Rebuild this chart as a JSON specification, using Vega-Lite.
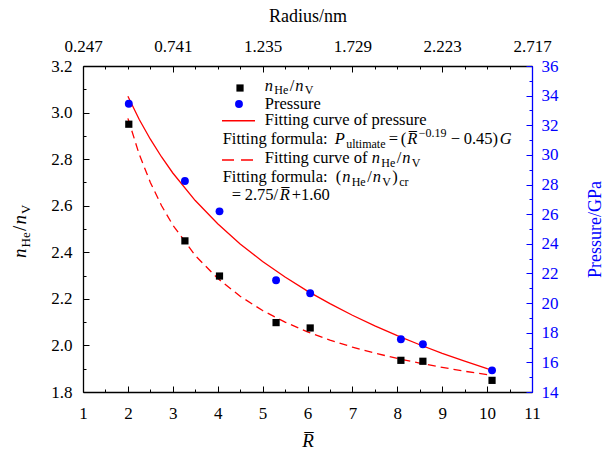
{
  "$schema": "https://vega.github.io/schema/vega-lite/v6.json",
  "width": 449,
  "height": 326,
  "autosize": {"type": "none"},
  "padding": {"left": 83, "top": 66, "right": 72, "bottom": 58},
  "background": "white",
  "config": {
    "font": "Liberation Serif",
    "view": {"stroke": null},
    "axis": {"grid": false, "labelFont": "Liberation Serif", "titleFont": "Liberation Serif", "labelFontSize": 17, "titleFontSize": 18, "titleFontWeight": "normal", "labelColor": "black", "titleColor": "black", "tickColor": "black", "domainColor": "black", "domainWidth": 1.3, "tickWidth": 1, "labelFlush": false, "labelOverlap": false},
    "text": {"font": "Liberation Serif", "fontSize": 16.5, "align": "left", "baseline": "alphabetic", "color": "black"}
  },
  "datasets": {
    "points": [
      {"R": 2.02, "n": 2.95, "P": 33.45},
      {"R": 3.27, "n": 2.449, "P": 28.24},
      {"R": 4.04, "n": 2.298, "P": 26.19},
      {"R": 5.30, "n": 2.098, "P": 21.54},
      {"R": 6.06, "n": 2.075, "P": 20.66},
      {"R": 8.08, "n": 1.936, "P": 17.56},
      {"R": 8.57, "n": 1.932, "P": 17.22},
      {"R": 10.11, "n": 1.85, "P": 15.46}
    ],
    "fitP": [
      {"R": 2, "P": 33.96}, {"R": 2.25, "P": 32.41}, {"R": 2.5, "P": 31.06}, {"R": 2.75, "P": 29.86},
      {"R": 3, "P": 28.78}, {"R": 3.5, "P": 26.92}, {"R": 4, "P": 25.35}, {"R": 4.5, "P": 23.99},
      {"R": 5, "P": 22.81}, {"R": 5.5, "P": 21.76}, {"R": 6, "P": 20.81}, {"R": 6.5, "P": 19.96},
      {"R": 7, "P": 19.18}, {"R": 7.5, "P": 18.46}, {"R": 8, "P": 17.80}, {"R": 8.5, "P": 17.19},
      {"R": 9, "P": 16.61}, {"R": 9.5, "P": 16.08}, {"R": 10, "P": 15.57}, {"R": 10.1, "P": 15.48}
    ],
    "fitN": [
      {"R": 2, "n": 2.975}, {"R": 2.25, "n": 2.822}, {"R": 2.5, "n": 2.700}, {"R": 2.75, "n": 2.600},
      {"R": 3, "n": 2.517}, {"R": 3.5, "n": 2.386}, {"R": 4, "n": 2.288}, {"R": 4.5, "n": 2.211},
      {"R": 5, "n": 2.150}, {"R": 5.5, "n": 2.100}, {"R": 6, "n": 2.058}, {"R": 6.5, "n": 2.023},
      {"R": 7, "n": 1.993}, {"R": 7.5, "n": 1.967}, {"R": 8, "n": 1.944}, {"R": 8.5, "n": 1.924},
      {"R": 9, "n": 1.906}, {"R": 9.5, "n": 1.889}, {"R": 10, "n": 1.875}, {"R": 10.1, "n": 1.872}
    ],
    "one": [{}]
  },
  "layer": [
    {
      "data": {"name": "fitN"},
      "mark": {"type": "line", "color": "#ff0000", "strokeWidth": 1.3, "strokeDash": [8, 5]},
      "encoding": {
        "x": {"field": "R", "type": "quantitative", "scale": {"domain": [1, 11], "nice": false, "zero": false}, "axis": null},
        "y": {"field": "n", "type": "quantitative", "scale": {"domain": [1.8, 3.2], "nice": false, "zero": false}, "axis": null}
      }
    },
    {
      "data": {"name": "points"},
      "mark": {"type": "square", "size": 52, "color": "black", "opacity": 1},
      "encoding": {
        "x": {"field": "R", "type": "quantitative", "scale": {"domain": [1, 11], "nice": false, "zero": false},
          "axis": {"orient": "bottom", "values": [1, 2, 3, 4, 5, 6, 7, 8, 9, 10, 11], "tickSize": -6, "labelPadding": 19, "labelFont": "Liberation Serif", "titleFont": "Liberation Serif", "title": "R\u0305", "titleFontStyle": "italic", "titleFontSize": 19, "titlePadding": 10}},
        "y": {"field": "n", "type": "quantitative", "scale": {"domain": [1.8, 3.2], "nice": false, "zero": false},
          "axis": {"orient": "left", "values": [1.8, 2.0, 2.2, 2.4, 2.6, 2.8, 3.0, 3.2], "format": ".1f", "tickSize": -6, "labelPadding": 17, "labelFont": "Liberation Serif", "title": null}}
      }
    },
    {
      "data": {"name": "fitP"},
      "mark": {"type": "line", "color": "#ff0000", "strokeWidth": 1.3},
      "encoding": {
        "x": {"field": "R", "type": "quantitative", "scale": {"domain": [1, 11], "nice": false, "zero": false}, "axis": null},
        "y": {"field": "P", "type": "quantitative", "scale": {"domain": [14, 36], "nice": false, "zero": false}, "axis": null}
      }
    },
    {
      "data": {"name": "points"},
      "mark": {"type": "circle", "size": 62, "color": "#0000ff", "opacity": 1},
      "encoding": {
        "x": {"field": "R", "type": "quantitative", "scale": {"domain": [1, 11], "nice": false, "zero": false},
          "axis": {"orient": "top", "values": [1, 3, 5, 7, 9, 11], "labelExpr": "format(datum.value*0.247, '.3f')", "tickSize": -6, "labelPadding": 17, "labelFont": "Liberation Serif", "titleFont": "Liberation Serif", "title": "Radius/nm", "titleFontSize": 18, "titlePadding": 12}},
        "y": {"field": "P", "type": "quantitative", "scale": {"domain": [14, 36], "nice": false, "zero": false},
          "axis": {"orient": "right", "values": [14, 16, 18, 20, 22, 24, 26, 28, 30, 32, 34, 36], "tickSize": -6, "labelPadding": 15, "labelFont": "Liberation Serif", "titleFont": "Liberation Serif", "title": "Pressure/GPa", "titleFontSize": 18, "titleAngle": 270, "titleBaseline": "top", "titlePadding": 28, "labelColor": "#0000ff", "titleColor": "#0000ff", "tickColor": "#0000ff", "domainColor": "#0000ff"}}
      }
    },
    {
      "data": {"name": "points"},
      "mark": {"type": "point", "opacity": 0},
      "encoding": {
        "x": {"field": "R", "type": "quantitative", "scale": {"domain": [1, 11], "nice": false, "zero": false},
          "axis": {"orient": "bottom", "values": [1.5, 2.5, 3.5, 4.5, 5.5, 6.5, 7.5, 8.5, 9.5, 10.5], "tickSize": -3, "labels": false, "domain": false, "title": null}},
        "y": {"field": "n", "type": "quantitative", "scale": {"domain": [1.8, 3.2], "nice": false, "zero": false},
          "axis": {"orient": "left", "values": [1.9, 2.1, 2.3, 2.5, 2.7, 2.9, 3.1], "tickSize": -3, "labels": false, "domain": false, "title": null}}
      }
    },
    {
      "data": {"name": "points"},
      "mark": {"type": "point", "opacity": 0},
      "encoding": {
        "x": {"field": "R", "type": "quantitative", "scale": {"domain": [1, 11], "nice": false, "zero": false},
          "axis": {"orient": "top", "values": [1.5, 2, 2.5, 3.5, 4, 4.5, 5.5, 6, 6.5, 7.5, 8, 8.5, 9.5, 10, 10.5], "tickSize": -3, "labels": false, "domain": false, "title": null}},
        "y": {"field": "P", "type": "quantitative", "scale": {"domain": [14, 36], "nice": false, "zero": false},
          "axis": {"orient": "right", "values": [15, 17, 19, 21, 23, 25, 27, 29, 31, 33, 35], "tickSize": -3, "labels": false, "domain": false, "title": null, "tickColor": "#0000ff"}}
      }
    },
    {
      "data": {"name": "one"},
      "encoding": {
        "x": {"datum": 4.497, "type": "quantitative", "scale": {"domain": [1, 11], "nice": false, "zero": false}, "axis": null},
        "y": {"datum": 3.1055, "type": "quantitative", "scale": {"domain": [1.8, 3.2], "nice": false, "zero": false}, "axis": null}
      },
      "mark": {"type": "square", "size": 52, "color": "black", "opacity": 1}
    },
    {
      "data": {"name": "one"},
      "encoding": {
        "x": {"datum": 4.474, "type": "quantitative", "scale": {"domain": [1, 11], "nice": false, "zero": false}, "axis": null},
        "y": {"datum": 3.0368, "type": "quantitative", "scale": {"domain": [1.8, 3.2], "nice": false, "zero": false}, "axis": null}
      },
      "mark": {"type": "circle", "size": 62, "color": "#0000ff", "opacity": 1}
    },
    {
      "data": {"name": "one"},
      "encoding": {
        "x": {"datum": 4.096, "type": "quantitative", "scale": {"domain": [1, 11], "nice": false, "zero": false}, "axis": null},
        "x2": {"datum": 4.831},
        "y": {"datum": 2.9651, "type": "quantitative", "scale": {"domain": [1.8, 3.2], "nice": false, "zero": false}, "axis": null}
      },
      "mark": {"type": "rule", "color": "#ff0000", "strokeWidth": 1.5}
    },
    {
      "data": {"name": "one"},
      "encoding": {
        "x": {"datum": 4.096, "type": "quantitative", "scale": {"domain": [1, 11], "nice": false, "zero": false}, "axis": null},
        "x2": {"datum": 4.831},
        "y": {"datum": 2.7964, "type": "quantitative", "scale": {"domain": [1.8, 3.2], "nice": false, "zero": false}, "axis": null}
      },
      "mark": {"type": "rule", "color": "#ff0000", "strokeWidth": 1.5, "strokeDash": [12, 7]}
    },
    {
      "data": {"name": "one"},
      "encoding": {
        "x": {"datum": 5.05, "type": "quantitative", "scale": {"domain": [1, 11], "nice": false, "zero": false}, "axis": null},
        "y": {"datum": 3.0927, "type": "quantitative", "scale": {"domain": [1.8, 3.2], "nice": false, "zero": false}, "axis": null}
      },
      "layer": [
        {"mark": {"type": "text", "text": "n", "fontStyle": "italic", "dx": 0}},
        {"mark": {"type": "text", "text": "He", "fontSize": 12, "dx": 9.5, "dy": 3.5}},
        {"mark": {"type": "text", "text": "/", "dx": 25}},
        {"mark": {"type": "text", "text": "n", "fontStyle": "italic", "dx": 30.5}},
        {"mark": {"type": "text", "text": "V", "fontSize": 12, "dx": 40, "dy": 3.5}},
        {"mark": {"type": "text", "text": "Pressure", "dy": 17.7}},
        {"mark": {"type": "text", "text": "Fitting curve of pressure", "dy": 34}},
        {"mark": {"type": "text", "text": "Fitting curve of", "dy": 72.3}},
        {"mark": {"type": "text", "text": "n", "fontStyle": "italic", "dx": 107, "dy": 72.3}},
        {"mark": {"type": "text", "text": "He", "fontSize": 12, "dx": 116.5, "dy": 75.8}},
        {"mark": {"type": "text", "text": "/", "dx": 132, "dy": 72.3}},
        {"mark": {"type": "text", "text": "n", "fontStyle": "italic", "dx": 137.5, "dy": 72.3}},
        {"mark": {"type": "text", "text": "V", "fontSize": 12, "dx": 147, "dy": 75.8}}
      ]
    },
    {
      "data": {"name": "one"},
      "encoding": {
        "x": {"datum": 4.11, "type": "quantitative", "scale": {"domain": [1, 11], "nice": false, "zero": false}, "axis": null},
        "y": {"datum": 2.8638, "type": "quantitative", "scale": {"domain": [1.8, 3.2], "nice": false, "zero": false}, "axis": null}
      },
      "layer": [
        {"mark": {"type": "text", "text": "Fitting formula:"}},
        {"mark": {"type": "text", "text": "P", "fontStyle": "italic", "dx": 112}},
        {"mark": {"type": "text", "text": "ultimate", "fontSize": 12, "dx": 123.5, "dy": 3.5}},
        {"mark": {"type": "text", "text": "=", "dx": 166}},
        {"mark": {"type": "text", "text": "(", "dx": 178}},
        {"mark": {"type": "text", "text": "R\u0305", "fontStyle": "italic", "dx": 184.5}},
        {"mark": {"type": "text", "text": "\u22120.19", "fontSize": 12, "dx": 196, "dy": -7}},
        {"mark": {"type": "text", "text": "\u2212", "dx": 228}},
        {"mark": {"type": "text", "text": "0.45)", "dx": 241}},
        {"mark": {"type": "text", "text": "G", "fontStyle": "italic", "dx": 277}},
        {"mark": {"type": "text", "text": "Fitting formula:", "dy": 38}},
        {"mark": {"type": "text", "text": "(", "dx": 113, "dy": 38}},
        {"mark": {"type": "text", "text": "n", "fontStyle": "italic", "dx": 119.5, "dy": 38}},
        {"mark": {"type": "text", "text": "He", "fontSize": 12, "dx": 129, "dy": 41.5}},
        {"mark": {"type": "text", "text": "/", "dx": 144.5, "dy": 38}},
        {"mark": {"type": "text", "text": "n", "fontStyle": "italic", "dx": 150, "dy": 38}},
        {"mark": {"type": "text", "text": "V", "fontSize": 12, "dx": 159.5, "dy": 41.5}},
        {"mark": {"type": "text", "text": ")", "dx": 169.5, "dy": 38}},
        {"mark": {"type": "text", "text": "cr", "fontSize": 12, "dx": 176.5, "dy": 41.5}},
        {"mark": {"type": "text", "text": "=", "dx": 9, "dy": 55.7}},
        {"mark": {"type": "text", "text": "2.75/", "dx": 22, "dy": 55.7}},
        {"mark": {"type": "text", "text": "R\u0305", "fontStyle": "italic", "dx": 57, "dy": 55.7}},
        {"mark": {"type": "text", "text": "+1.60", "dx": 69, "dy": 55.7}}
      ]
    },
    {
      "data": {"name": "one"},
      "encoding": {
        "x": {"datum": -0.27, "type": "quantitative", "scale": {"domain": [1, 11], "nice": false, "zero": false}, "axis": null},
        "y": {"datum": 2.3756, "type": "quantitative", "scale": {"domain": [1.8, 3.2], "nice": false, "zero": false}, "axis": null}
      },
      "layer": [
        {"mark": {"type": "text", "text": "n", "fontStyle": "italic", "fontSize": 19, "angle": 270, "dx": 0}},
        {"mark": {"type": "text", "text": "He", "fontSize": 13, "angle": 270, "dx": 10.5, "dy": 4}},
        {"mark": {"type": "text", "text": "/", "fontSize": 19, "angle": 270, "dx": 27}},
        {"mark": {"type": "text", "text": "n", "fontStyle": "italic", "fontSize": 19, "angle": 270, "dx": 33.5}},
        {"mark": {"type": "text", "text": "V", "fontSize": 13, "angle": 270, "dx": 44, "dy": 4}}
      ]
    }
  ],
  "resolve": {"scale": {"y": "independent"}, "axis": {"x": "independent", "y": "independent"}}
}
